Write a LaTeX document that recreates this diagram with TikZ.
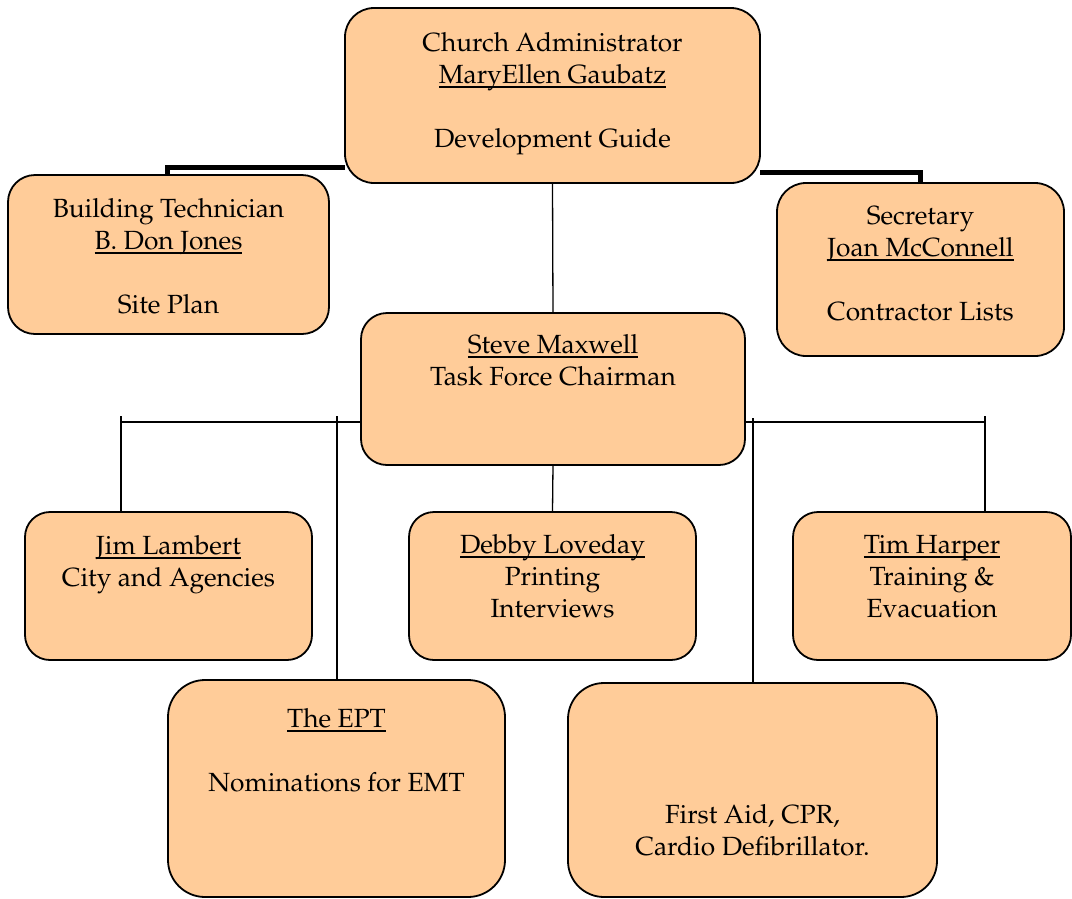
\documentclass[tikz,border=0pt]{standalone}
\usepackage[T1]{fontenc}
\usepackage{mathpazo}
\usetikzlibrary{positioning,calc,backgrounds}
\definecolor{orgpeach}{RGB}{255,204,153}
\newcommand{\nameline}[1]{\setbox0\hbox{#1}\rlap{\rule[-4.5pt]{\wd0}{1.3pt}}\box0}

\begin{document}
\begin{tikzpicture}[
  x=1pt, y=-1pt,
  font=\fontsize{26.3}{32}\selectfont,
  orgbox/.style={draw, line width=1.8pt, fill=orgpeach, inner sep=0pt, outer sep=0pt},
  boxtext/.style={anchor=base, align=center, inner sep=0pt},
  link/.style={line width=1.3pt},
  boldlink/.style={line width=5pt}
]
\useasboundingbox (0,0) rectangle (1072,898);

\node[orgbox, minimum width=415pt, minimum height=175pt, rounded corners=29pt] (admin) at (552.5,95.5) {};
\node[orgbox, minimum width=321pt, minimum height=159pt, rounded corners=27pt] (building) at (168.5,254.5) {};
\node[orgbox, minimum width=287pt, minimum height=173pt, rounded corners=29pt] (secretary) at (920.5,269.5) {};
\node[orgbox, minimum width=384pt, minimum height=152pt, rounded corners=26pt] (steve) at (553,389) {};
\node[orgbox, minimum width=287pt, minimum height=148pt, rounded corners=25pt] (jim) at (168.5,586) {};
\node[orgbox, minimum width=287pt, minimum height=148pt, rounded corners=25pt] (debby) at (552.5,586) {};
\node[orgbox, minimum width=278pt, minimum height=148pt, rounded corners=25pt] (tim) at (932,586) {};
\node[orgbox, minimum width=337pt, minimum height=217pt, rounded corners=37pt] (ept) at (336.5,788.5) {};
\node[orgbox, minimum width=369pt, minimum height=214pt, rounded corners=36pt] (firstaid) at (752.5,790) {};

% texts sit on the baseline of their last line
\node[boxtext] (adminText) at (552.5,147) {Church Administrator\\\nameline{MaryEllen Gaubatz}\\[32pt]Development Guide};
\node[boxtext] (buildingText) at (168.5,313) {Building Technician\\\nameline{B. Don Jones}\\[32pt]Site Plan};
\node[boxtext] (secretaryText) at (920.5,320) {Secretary\\\nameline{Joan McConnell}\\[32pt]Contractor Lists};
\node[boxtext] (steveText) at (553,385) {\nameline{Steve Maxwell}\\Task Force Chairman};
\node[boxtext] (jimText) at (168.5,586) {\nameline{Jim Lambert}\\City and Agencies};
\node[boxtext] (debbyText) at (552.5,617) {\nameline{Debby Loveday}\\Printing\\Interviews};
\node[boxtext] (timText) at (932,617) {\nameline{Tim Harper}\\Training \&\\Evacuation};
\node[boxtext] (eptText) at (336.5,791) {\nameline{The EPT}\\[32pt]Nominations for EMT};
\node[boxtext] (firstaidText) at (752.5,855) {First Aid, CPR,\\Cardio Defibrillator.};

% connectors behind the boxes
\coordinate (techDrop) at (167,167);
\coordinate (secDrop) at (920,172);
\coordinate (busL) at (121,422);
\coordinate (busR) at (985,422);
\coordinate (eptDrop) at (337,416);
\coordinate (aidDrop) at (753,418);
\begin{scope}[on background layer]
\draw[boldlink] (techDrop -| admin.west) -- (techDrop) -- (techDrop |- building.north);
\draw[boldlink] (secDrop -| admin.east) -- (secDrop) -- (secDrop |- secretary.north);
\draw[link] (admin.south) -- (steve.north);
\draw[link] (steve.south) -- (debby.north);
\draw[link] (busL) -- (busR);
\draw[link] ([yshift=6pt]busL) -- (busL |- jim.north);
\draw[link] ([yshift=6pt]busR) -- (busR |- tim.north);
\draw[link] (eptDrop) -- (eptDrop |- ept.north);
\draw[link] (aidDrop) -- (aidDrop |- firstaid.north);
\end{scope}

\end{tikzpicture}
\end{document}
